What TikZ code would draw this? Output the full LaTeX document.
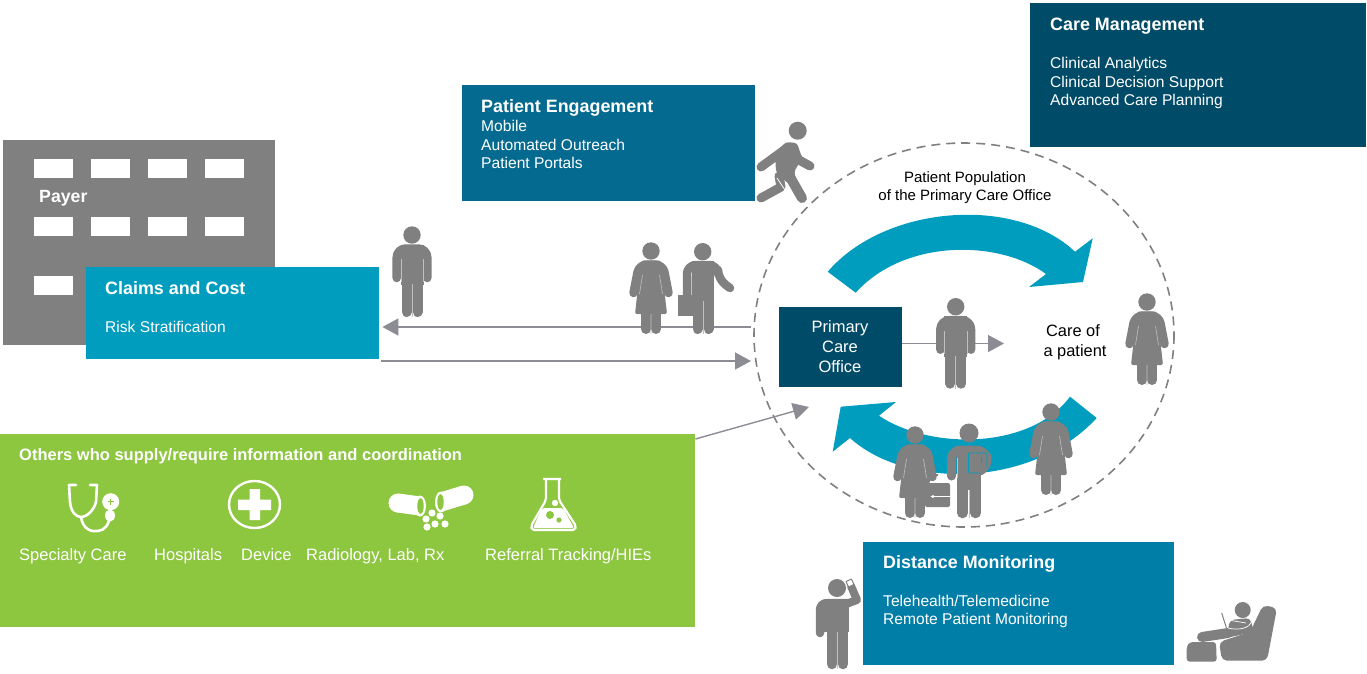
\documentclass[tikz,border=0pt]{standalone}
\usepackage{fontspec}
\setmainfont{Liberation Sans}
\usetikzlibrary{arrows.meta}
\definecolor{darkteal}{HTML}{004B68}
\definecolor{midteal}{HTML}{056A8F}
\definecolor{lightteal}{HTML}{007EA7}
\definecolor{swoosh}{HTML}{009DBE}
\definecolor{leaf}{HTML}{8DC63F}
\definecolor{persongray}{HTML}{808080}
\definecolor{arrowgray}{HTML}{8C8C94}
\tikzset{
  panel/.style={anchor=north west, inner sep=0pt, minimum width=#1},
  boxhead/.style={anchor=base west, yshift=-6pt, inner sep=0pt, text=white, font=\fontsize{17.9}{20}\selectfont\bfseries},
  boxline/.style={anchor=base west, yshift=-5.3pt, inner sep=0pt, text=white, font=\fontsize{15.6}{18}\selectfont},
  greenline/.style={boxline, font=\fontsize{16.5}{18}\selectfont},
  plainline/.style={anchor=base, yshift=-5.3pt, inner sep=0pt, text=black, font=\fontsize{15}{18}\selectfont},
  officeline/.style={plainline, text=white, font=\fontsize{16.5}{18}\selectfont},
  flow/.style={arrowgray, line width=1.4pt, -{Triangle[length=16pt,width=17pt]}},
  limb/.style={persongray, line width=8.5pt, line cap=round, line join=round},
  gapline/.style={white!50!persongray, line width=0.6pt},
  manfig/.pic={
    \fill[persongray] (0,0) circle (8.7);
    \draw[limb, rounded corners=9pt] (-15.3,43)--(-15.3,13.5)--(15.3,13.5)--(15.3,43);
    \fill[persongray] (-11.5,9.5) rectangle (11.5,50);
    \draw[limb, line width=10pt] (-5.5,46)--(-5.5,77) (5.5,46)--(5.5,77);
    \draw[gapline] (-11.2,24)--(-11.2,47) (11.2,24)--(11.2,47) (0,49)--(0,82);
  },
  womanfig/.pic={
    \fill[persongray] (0,0) circle (8.7);
    \draw[limb, rounded corners=8pt] (-17.5,42)--(-12,13.5)--(12,13.5)--(17.5,42);
    \fill[persongray, rounded corners=2pt] (-10,9.5)--(10,9.5)--(16,63)--(-16,63)--cycle;
    \draw[limb, line width=10pt] (-5,58)--(-5,78) (5,58)--(5,78);
    \draw[gapline] (-8.5,24)--(-11.5,43) (8.5,24)--(11.5,43) (0,63)--(0,83);
  },
}
\begin{document}
\begin{tikzpicture}[x=1pt, y=-1pt, line join=round]
  \useasboundingbox (0,0) rectangle (1367,673);
  % payer building
  \fill[persongray] (3,140) coordinate (payernw) rectangle (275,345);
  \foreach \wy in {159,217,276}
    \foreach \wx in {34,91,148,205}
      \fill[white] (\wx,\wy) rectangle (\wx+39,\wy+19);
  \node[boxhead, font=\fontsize{17.7}{20}\selectfont\bfseries] (payer) at (39,196) {Payer};
  % boxes
  \node[panel=293pt, fill=swoosh, minimum height=92pt] (claims) at (86,267) {};
  \node[boxhead] (claimshead) at (105,288) {Claims and Cost};
  \node[boxline] (riskline) at (105,327) {Risk Stratification};
  \node[panel=293pt, fill=midteal, minimum height=116pt] (engage) at (462,85) {};
  \node[boxhead] (engagehead) at (481,106) {Patient Engagement};
  \node[boxline] (mobileline) at (481,126) {Mobile};
  \node[boxline] (outreachline) at (481,145) {Automated Outreach};
  \node[boxline] (portalline) at (481,163) {Patient Portals};
  \node[panel=336pt, fill=darkteal, minimum height=144pt] (caremgmt) at (1030,3) {};
  \node[boxhead] (caremgmthead) at (1050,24) {Care Management};
  \node[boxline] (analyticsline) at (1050,63) {Clinical Analytics};
  \node[boxline] (decisionline) at (1050,82) {Clinical Decision Support};
  \node[boxline] (planningline) at (1050,100) {Advanced Care Planning};
  \node[panel=311pt, fill=lightteal, minimum height=123pt] (distance) at (863,542) {};
  \node[boxhead] (distancehead) at (883,562) {Distance Monitoring};
  \node[boxline] (teleline) at (883,601) {Telehealth/Telemedicine};
  \node[boxline] (remoteline) at (883,619) {Remote Patient Monitoring};
  \node[panel=695pt, fill=leaf, minimum height=193pt] (others) at (0,434) {};
  \node[boxhead, font=\fontsize{16.5}{18}\selectfont\bfseries] (othershead) at (19,454) {Others who supply/require information and coordination};
  \node[greenline] (specialty) at (19,555) {Specialty Care};
  \node[greenline] (hospitals) at (154,555) {Hospitals};
  \node[greenline] (device) at (241,555) {Device};
  \node[greenline] (radiology) at (306,555) {Radiology, Lab, Rx};
  \node[greenline] (referral) at (485,555) {Referral Tracking/HIEs};
  % stethoscope
  \draw[white, line width=2.6pt, line cap=round] (76,485)--(69,485)--(70,502) .. controls (71,512) and (76,517) .. (81,517) .. controls (87,517) and (94,510) .. (96,502)--(97,485)--(90,485);
  \draw[white, line width=2.6pt] (81,517) .. controls (83,530) and (92,532) .. (98,531) .. controls (105,530) and (109,525) .. (110,515);
  \fill[white] (110.7,501.7) circle (8.5) (110,515.5) ellipse (5 and 6);
  \draw[leaf, line width=0.8pt] (107.5,501.7)--(113.9,501.7) (110.7,498.5)--(110.7,504.9);
  % hospital cross
  \draw[white, line width=2.4pt] (254.5,504.5) ellipse (25.5 and 23.5);
  \fill[white] (249.5,489) rectangle (260,520) (238,499.5) rectangle (271,510);
  % pills
  \draw[white, line width=19pt] (398,503)--(420,506);
  \fill[white] (398,503) circle (9.5) (420,506) ellipse (6 and 10.5);
  \fill[leaf] (420.5,506) ellipse (3.2 and 7.8);
  \draw[white, line width=19pt] (441,502)--(464,495);
  \fill[white] (464,495) circle (9.5) (441,502) ellipse (6 and 10.5);
  \fill[leaf] (440.5,502) ellipse (3.2 and 7.8);
  \foreach \dx/\dy in {432/513,426/519,440/516,427/527,435/524,445/524}
    \fill[white] (\dx,\dy) circle (3.6);
  % flask
  \draw[white, line width=2.2pt, rounded corners=2pt] (543,479)--(561,479) (546,479)--(546,500)--(531,526) -- (532,530)--(575,530)--(576,526)--(559,500)--(559,479);
  \fill[white, rounded corners=2pt] (542,508)--(563,508)--(574,528)--(533,528)--cycle;
  \fill[white] (555,503) circle (3.2);
  \fill[leaf] (550,515) circle (4) (559,520) circle (2.6);
  % population circle
  \draw[persongray, line width=1.6pt, dash pattern=on 9pt off 6pt] (964,335) ellipse (210 and 192);
  \node[plainline] (popa) at (965,177) {Patient Population};
  \node[plainline] (popb) at (965,195) {of the Primary Care Office};
  % top swoosh
  \fill[swoosh] (827.7,271.7) .. controls (885,205) and (1015,195) .. (1075,251.7) -- (1092.7,238.3) -- (1083,282) -- (1029,287) -- (1046,274) .. controls (1000,240) and (905,238) .. (855.7,292.7) -- cycle;
  % bottom swoosh
  \fill[swoosh] (1096.7,418) .. controls (1030,490) and (905,488) .. (850,438) -- (832.7,451.7) -- (840.7,406.7) -- (896,402) -- (879,415.7) .. controls (930,450) and (1030,450) .. (1070,396.7) -- cycle;
  \node[panel=123pt, fill=darkteal, minimum height=80pt] (office) at (779,307) {};
  \node[officeline] (officea) at (840,327) {Primary};
  \node[officeline] (officeb) at (840,347) {Care};
  \node[officeline] (officec) at (840,367) {Office};
  \node[plainline, font=\fontsize{16.4}{18}\selectfont] (carea) at (1073,331) {Care of};
  \node[plainline, font=\fontsize{16.4}{18}\selectfont] (careb) at (1075,351) {a patient};
  % connectors
  \coordinate (popwest) at (751,327);
  \coordinate (popwestb) at (751,361);
  \coordinate (popsw) at (809,407);
  \coordinate (caretip) at (1004,343.5);
  \draw[flow, shorten >=3pt] (popwest) -- (claims.east |- popwest);
  \draw[flow, shorten <=2pt] (claims.east |- popwestb) -- (popwestb);
  \draw[flow] (others.north east) ++(0,5) -- (popsw);
  \draw[flow] (office.east |- caretip) -- (caretip);
  % people
  \pic at (412,235) {manfig};
  \pic at (651,251) {womanfig};
  \pic at (955.7,306.7) {manfig};
  \pic at (1147,302) {womanfig};
  \pic at (1051,412) {womanfig};
  % man with briefcase
  \fill[persongray] (678,295) rectangle (697,316);
  \fill[persongray] (702.7,251.7) circle (8.7);
  \draw[limb, rounded corners=9pt] (687,295)--(687,265)--(718,265)--(718,279)--(730,288);
  \fill[persongray] (692,261) rectangle (714,302);
  \draw[limb, line width=10pt] (697.5,298)--(697.5,329) (708.5,298)--(708.5,329);
  \draw[gapline] (691.5,276)--(691.5,295) (703,301)--(703,334);
  % walking man
  \fill[persongray] (797.7,130.7) circle (9);
  \fill[persongray, rounded corners=3pt] (775,153)--(786,142)--(797,143)--(802,158)--(794,172)--(799,188)--(786,182)--(776,172)--cycle;
  \draw[limb, line width=9pt] (787,148)--(761,167) (794,152)--(799,160)--(810,166) (779,176)--(781,187)--(761,198);
  \draw[limb, line width=10pt] (786,170)--(802,198);
  \draw[white, line width=0.8pt] (777,178)--(785,190);
  % woman with bag, man with tablet
  \fill[persongray, rounded corners=2pt] (925,483) rectangle (950,507);
  \draw[persongray, line width=2pt] (928,483)--(932,475)--(938,475);
  \fill[white] (925,496) rectangle (950,497.2);
  \fill[white] (933,496.5) circle (1.6);
  \pic at (915,435) {womanfig};
  \fill[persongray] (969,433) circle (9.5);
  \draw[limb, line width=9pt, rounded corners=9pt] (951.5,476)--(951.5,450)--(985,450)--(989,465)--(980,471);
  \fill[persongray] (957,446) rectangle (981,490);
  \draw[limb, line width=10.5pt] (962.5,486)--(962.5,513) (975.5,486)--(975.5,513);
  \draw[gapline] (957,458)--(957,478) (969,490)--(969,518);
  \draw[swoosh, line width=0.8pt, rounded corners=1pt] (980,473)--(968.5,473)--(968.5,453)--(987,453)--(987,468);
  % man on the phone
  \fill[persongray] (837,588) circle (9);
  \draw[limb, rounded corners=7pt] (820,633)--(820,603)--(848,603);
  \draw[limb, line width=8pt] (846,604)--(857,600)--(851,586);
  \fill[persongray] (824,599) rectangle (849,632);
  \draw[limb, line width=10.5pt] (832,630)--(832,664) (843,630)--(843,664);
  \draw[gapline] (837.5,632)--(837.5,669);
  \draw[persongray, fill=white, line width=1pt, rotate around={25:(850,583)}] (847,580) rectangle (853,586);
  % armchair
  \fill[persongray, rounded corners=3pt] (1186.7,646)--(1190,642)--(1216,642)--(1216.7,661.7)--(1186.7,661.7)--cycle;
  \fill[persongray, rounded corners=5pt] (1263,605)--(1277,608)--(1267,660.7)--(1222,660.7)--(1219,642)--(1250,632)--cycle;
  \draw[limb, line width=10pt] (1202,637)--(1228,633);
  \fill[persongray] (1242.7,610) circle (8);
  \fill[persongray, rounded corners=4pt] (1230,620)--(1250,618)--(1254,632)--(1226,638)--cycle;
  \draw[persongray, line width=1pt] (1221.7,613)--(1226.7,629);
  \draw[white, line width=0.7pt] (1228,628) .. controls (1236,630) and (1250,630) .. (1252,620) -- (1247,617) (1228,620)--(1246,623);
\end{tikzpicture}
\end{document}
